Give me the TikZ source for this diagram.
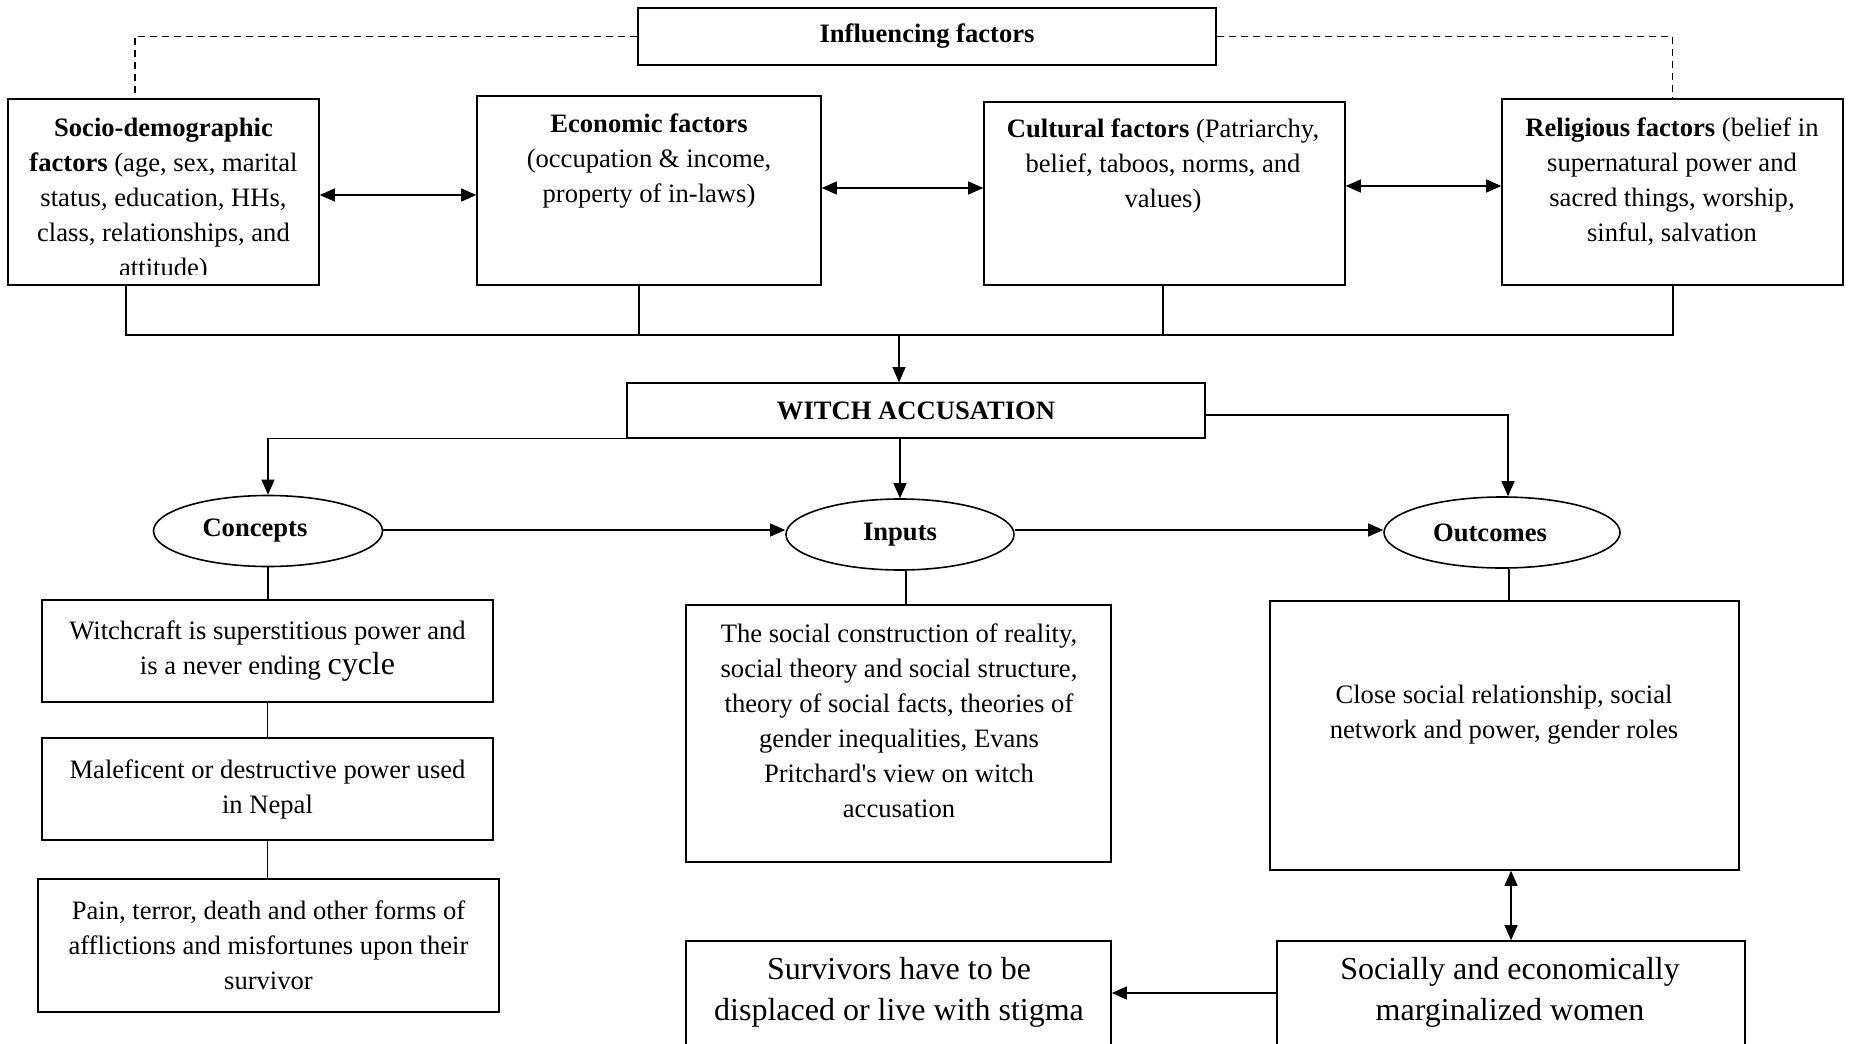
\documentclass[tikz,border=0pt]{standalone}
\usepackage{fontspec}
\setmainfont{Liberation Serif}
\usetikzlibrary{arrows.meta,shapes.geometric}

\newcommand{\regtxt}{\fontsize{13.3}{17.5}\selectfont}
\newcommand{\bigtxt}{\fontsize{16}{20.5}\selectfont}

\tikzset{
  box/.style={draw,line width=0.8pt,inner sep=0pt,align=center,font=\regtxt},
  oval/.style={draw,ellipse,line width=0.8pt,inner sep=0pt,font=\regtxt\bfseries},
  txt/.style={align=center,inner sep=0pt,font=\regtxt},
  conn/.style={line width=0.6pt},
  dashline/.style={conn,dash pattern=on 3.5pt off 2.5pt},
  arr/.style={conn,-{Triangle[length=7.5pt,width=6.5pt]}},
  darr/.style={conn,{Triangle[length=7.5pt,width=6.5pt]}-{Triangle[length=7.5pt,width=6.5pt]}}
}

\begin{document}
\begin{tikzpicture}[x=0.5pt,y=-0.5pt]
\useasboundingbox (0,0) rectangle (1850,1043);
\clip (0,0) rectangle (1850,1043);

% influencing factors
\node[box,font=\regtxt\bfseries,minimum width=289pt,minimum height=28.5pt] (infl) at (927,36.5) {Influencing factors};

\node[box,minimum width=155.5pt,minimum height=93pt] (socio) at (163.5,192) {};
\node[box,minimum width=172pt,minimum height=94.5pt] (econ) at (649,190.5) {};
\node[box,minimum width=180.5pt,minimum height=91.5pt] (cult) at (1164.5,193.5) {};
\node[box,minimum width=170.5pt,minimum height=93pt] (relig) at (1672.5,192) {};

\begin{scope}
\clip ([yshift=5.5pt]socio.south west) rectangle (socio.north east);
\node[txt] (sociotxt) at (163.5,200) {\textbf{Socio-demographic}\\\textbf{factors} (age, sex, marital\\status, education, HHs,\\class, relationships, and\\attitude)};
\end{scope}
\node[txt] (econtxt) at (649,161) {\textbf{Economic factors}\\(occupation \& income,\\property of in-laws)};
\node[txt] (culttxt) at (1163,166) {\textbf{Cultural factors} (Patriarchy,\\belief, taboos, norms, and\\values)};
\node[txt] (religtxt) at (1672,181.5) {\textbf{Religious factors} (belief in\\supernatural power and\\sacred things, worship,\\sinful, salvation};

% witch accusation
\node[box,font=\regtxt\bfseries,minimum width=289pt,minimum height=27.5pt] (witch) at (916,410.5) {WITCH ACCUSATION};

\node[oval,minimum width=114.5pt,minimum height=35.5pt] (concepts) at (268,531) {Concepts\kern13pt};
\node[oval,minimum width=114pt,minimum height=35.5pt] (inputs) at (900,534.5) {Inputs};
\node[oval,minimum width=118pt,minimum height=35.5pt] (outcomes) at (1502,532.5) {Outcomes\kern12pt};

% concepts column
\node[box,minimum width=225.5pt,minimum height=51pt] (witchcraft) at (267.5,651) {Witchcraft is superstitious power and\\is a never ending {\bigtxt cycle}};
\node[box,minimum width=225.5pt,minimum height=51pt] (maleficent) at (267.5,789) {Maleficent or destructive power used\\in Nepal};
\node[box,minimum width=230.5pt,minimum height=66.5pt] (pain) at (268.5,945.5) {Pain, terror, death and other forms of\\afflictions and misfortunes upon their\\survivor};

% inputs and outcomes
\node[box,minimum width=212.5pt,minimum height=128.5pt] (theory) at (898.5,733.5) {};
\node[txt] (theorytxt) at (899,720.5) {The social construction of reality,\\social theory and social structure,\\theory of social facts, theories of\\gender inequalities, Evans\\Pritchard\textquotesingle s view on witch\\accusation};
\node[box,minimum width=234.5pt,minimum height=134.5pt] (roles) at (1504.5,735.5) {};
\node[txt] (rolestxt) at (1504,715) {Close social relationship, social\\network and power, gender roles};

\node[box,minimum width=212.5pt,minimum height=64.5pt] (stigma) at (898.5,1005.5) {};
\node[txt,font=\bigtxt] (stigmatxt) at (899,992.5) {Survivors have to be\\displaced or live with stigma};
\node[box,minimum width=234pt,minimum height=64.5pt] (women) at (1511,1005.5) {};
\node[txt,font=\bigtxt] (womentxt) at (1510,992.5) {Socially and economically\\marginalized women};

% connectors
\draw[dashline] (infl.west) -| ([xshift=-14.25pt]socio.north);
\draw[dashline] (infl.east) -| (relig.north);

\draw[darr] (socio.east |- 0,195) -- (econ.west |- 0,195);
\draw[darr] (econ.east |- 0,188) -- (cult.west |- 0,188);
\draw[darr] (cult.east |- 0,186) -- (relig.west |- 0,186);

\coordinate (busL) at (126,335);
\coordinate (busR) at (1673,335);
\coordinate (busM) at (899,335);
\draw[conn] (socio.south -| busL) -- (busL) -- (busR) -- (relig.south -| busR);
\draw[conn] (econ.south -| 639,0) -- (639,335);
\draw[conn] (cult.south -| 1163,0) -- (1163,335);
\draw[arr] (busM) -- (busM |- witch.north);

\draw[arr] (witch.south west) -| (concepts.north);
\draw[arr] (witch.south -| inputs.north) -- (inputs.north);
\draw[arr] (witch.east |- 0,415) -| (outcomes.north -| 1508,0);

\draw[arr] (concepts.east |- 0,530) -- (inputs.west |- 0,530);
\draw[arr] (inputs.east |- 0,530) -- (outcomes.west |- 0,530);

\draw[conn] (concepts.south) -- (concepts.south |- witchcraft.north);
\draw[conn] (witchcraft.south) -- (maleficent.north);
\draw[conn] (maleficent.south) -- (maleficent.south |- pain.north);
\draw[conn] (inputs.south -| 906,0) -- (theory.north -| 906,0);
\draw[conn] (outcomes.south -| 1509,0) -- (roles.north -| 1509,0);
\draw[darr] (roles.south -| women.north) -- (women.north);
\draw[arr] (women.west |- 0,993) -- (stigma.east |- 0,993);
\end{tikzpicture}
\end{document}
